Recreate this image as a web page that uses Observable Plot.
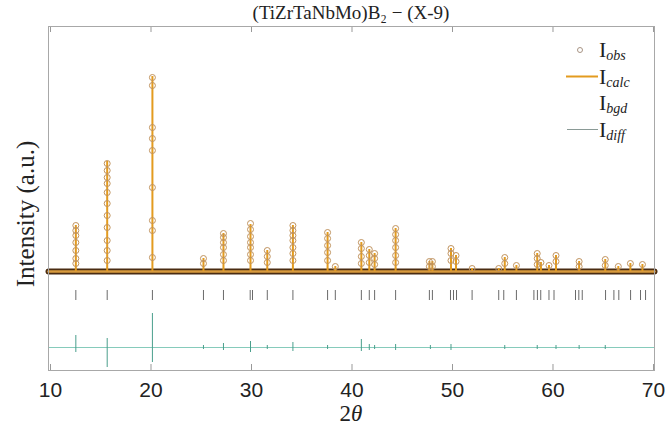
<!DOCTYPE html>
<html><head><meta charset="utf-8">
<script src="https://cdn.jsdelivr.net/npm/d3@7"></script>
<script src="https://cdn.jsdelivr.net/npm/@observablehq/plot@0.6"></script>
<style>body{margin:0;background:#fff} #chart svg{display:block}</style>
</head><body><div id="chart"></div>
<script>
// ---------- data ----------
const title = "(TiZrTaNbMo)B\u2082 \u2212 (X-9)";
const xLabelPlain = "2";
const xLabelItalic = "\u03b8";
const yLabel = "Intensity (a.u.)";
const xTicks = [10, 20, 30, 40, 50, 60, 70];
const xDomain = [9.8, 70.1];
const yDomain = [-990, 2450];

// Bragg peaks: position (2θ) and calculated height
const peakPos  = [12.52, 15.64, 20.14, 25.22, 27.21, 29.9, 31.57, 34.12, 37.57, 38.34, 40.93, 41.72, 42.25, 44.34, 47.7, 48.0, 49.85, 50.35, 51.95, 54.6, 55.2, 56.36, 58.43, 58.8, 59.6, 60.3, 62.6, 65.2, 66.5, 67.7, 68.9];
const peakCalc = [460, 1100, 1950, 130, 380, 470, 210, 460, 390, 50, 290, 220, 180, 430, 100, 100, 230, 160, 30, 30, 140, 60, 180, 90, 60, 160, 100, 120, 50, 80, 70];
// observed points on each peak (intensity values)
const obsHeights = [
  [460, 410, 360, 290, 210, 130, 80],
  [1080, 1010, 940, 880, 790, 680, 560, 440, 310, 210, 110],
  [1940, 1860, 1440, 1330, 1210, 840, 510, 410, 140],
  [130, 80],
  [380, 340, 290, 240, 170, 110],
  [480, 420, 350, 290, 240, 170, 110],
  [210, 150, 90],
  [460, 410, 360, 310, 240, 180, 110],
  [390, 330, 260, 190, 110],
  [50],
  [290, 230, 150, 80],
  [220, 160, 90],
  [180, 130, 70],
  [430, 370, 310, 240, 160, 90],
  [100, 50],
  [100, 50],
  [230, 180, 110],
  [160, 100],
  [30],
  [30],
  [140, 80],
  [60],
  [180, 130, 70],
  [90],
  [60],
  [160, 100],
  [100, 50],
  [120, 60],
  [50],
  [80],
  [70]
];
// background (flat)
const bgdX = [9.8, 70.1];
const bgdY = [0, 0];
// reflection markers
const reflPos = [12.52, 15.64, 20.14, 25.22, 27.21, 29.87, 30.10, 31.57, 34.12, 37.57, 38.34, 40.93, 41.72, 42.25, 44.34, 47.7, 48.0, 49.8, 50.1, 50.4, 51.95, 54.6, 55.1, 56.36, 58.1, 58.45, 58.78, 59.6, 60.1, 62.24, 62.57, 62.91, 65.23, 66.06, 66.55, 67.72, 68.71, 69.21];
const reflTop = -190, reflBottom = -290;
// difference curve: level and spikes
const diffLevel = -760;
const diffPos = [12.52, 15.64, 20.14, 25.22, 27.21, 29.9, 31.57, 34.12, 37.57, 40.93, 41.72, 42.25, 44.34, 47.8, 49.85, 55.2, 58.43, 60.3, 62.6, 65.2];
const diffHi  = [120, 90, 340, 20, 40, 60, 20, 50, 20, 80, 30, 20, 30, 20, 30, 20, 20, 20, 20, 20];
const diffLo  = [-50, -200, -150, -20, -30, -50, -20, -40, -20, -40, -30, -20, -30, -20, -30, -20, -20, -20, -20, -20];

// ---------- tables ----------
const peaks = peakPos.map((x, i) => ({x, calc: peakCalc[i]}));
const obs = peakPos.flatMap((x, i) => obsHeights[i].map(y => ({x, y})));
const bgd = bgdX.map((x, i) => ({x, y: bgdY[i]}));
const diffs = diffPos.map((x, i) => ({x, hi: diffLevel + diffHi[i], lo: diffLevel + diffLo[i]}));

const serif = "'Liberation Serif', 'DejaVu Serif', serif";
const sans = "'Liberation Sans', Arial, sans-serif";

const chart = Plot.plot({
  width: 668, height: 441,
  marginLeft: 48, marginRight: 14, marginTop: 26, marginBottom: 71,
  x: {domain: xDomain},
  y: {domain: yDomain, axis: null},
  style: {background: "#fff", overflow: "visible"},
  marks: [
    Plot.ruleY([diffLevel], {stroke: "#86cbbb", strokeWidth: 1}),
    Plot.ruleX(diffs, {x: "x", y1: "lo", y2: "hi", stroke: "#4a9f8c", strokeWidth: 1}),
    Plot.ruleX(reflPos, {x: d => d, y1: () => reflBottom, y2: () => reflTop, stroke: "#6a6a6a", strokeWidth: 1}),
    Plot.line(bgd, {x: "x", y: "y", stroke: "#4a2c12", strokeWidth: 6, strokeLinecap: "round"}),
    Plot.line(bgd, {x: "x", y: "y", stroke: "#d89a3e", strokeWidth: 2.6, strokeLinecap: "round"}),
    Plot.ruleX(peaks, {x: "x", y1: () => 0, y2: "calc", stroke: "#e39b1f", strokeWidth: 2}),
    Plot.dot(obs, {x: "x", y: "y", r: 3, stroke: "#c0935f", strokeWidth: 1, fill: "none"}),
    Plot.frame({stroke: "#a8a8a8"}),
    Plot.axisX({anchor: "bottom", ticks: xTicks, tickSize: -6, tickFormat: () => "", stroke: "#999", label: null}),
    Plot.axisX({anchor: "top", ticks: xTicks, tickSize: -5, tickFormat: () => "", stroke: "#999", label: null}),
    Plot.axisX({anchor: "bottom", ticks: xTicks, tickSize: 0, tickPadding: 12, fontSize: 21, fontFamily: sans, fill: "#222", tickFormat: d => String(d), label: null})
  ]
});
document.getElementById("chart").append(chart);

const svg = d3.select(chart);
// title
svg.append("text").attr("x", 351).attr("y", 19).attr("text-anchor", "middle")
  .attr("font-family", serif).attr("font-size", 19).attr("fill", "#222").text(title);
// y label
svg.append("text").attr("transform", "translate(34,214) rotate(-90)").attr("text-anchor", "middle")
  .attr("font-family", serif).attr("font-size", 25).attr("fill", "#222").text(yLabel);
// x label with upright 2 and italic θ
const xl = svg.append("text").attr("x", 351).attr("y", 421).attr("text-anchor", "middle")
  .attr("font-family", serif).attr("font-size", 23).attr("fill", "#222");
xl.append("tspan").text(xLabelPlain);
xl.append("tspan").attr("font-style", "italic").text(xLabelItalic);

// ---------- legend ----------
const legendItems = [
  {sub: "obs", kind: "dot"},
  {sub: "calc", kind: "calc"},
  {sub: "bgd", kind: "none"},
  {sub: "diff", kind: "diff"}
];
const lg = svg.append("g").attr("font-family", serif).attr("fill", "#222").attr("text-anchor", "start");
legendItems.forEach((it, i) => {
  const base = 57 + i * 26.5;
  const t = lg.append("text").attr("x", 599).attr("y", base).attr("font-size", 22);
  t.append("tspan").text("I");
  t.append("tspan").attr("font-size", 14).attr("font-style", "italic").attr("dy", 3).text(it.sub);
  const cy = base - 7;
  if (it.kind === "dot") {
    lg.append("circle").attr("cx", 580).attr("cy", cy).attr("r", 2.5).attr("fill", "none").attr("stroke", "#a89484").attr("stroke-width", 1);
  } else if (it.kind === "calc") {
    lg.append("line").attr("x1", 566).attr("x2", 598).attr("y1", cy).attr("y2", cy).attr("stroke", "#e39b1f").attr("stroke-width", 2);
  } else if (it.kind === "diff") {
    lg.append("line").attr("x1", 567).attr("x2", 598).attr("y1", cy).attr("y2", cy).attr("stroke", "#8a9a96").attr("stroke-width", 1);
  }
});
</script>
</body></html>
